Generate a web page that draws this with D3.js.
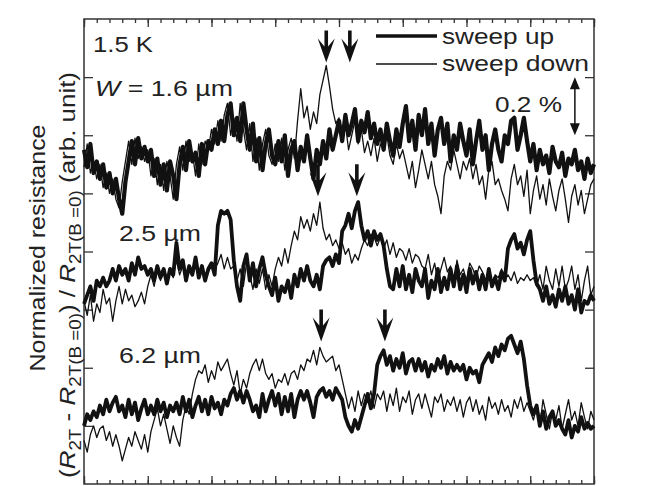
<!DOCTYPE html>
<html><head><meta charset="utf-8">
<script src="https://cdn.jsdelivr.net/npm/d3@7"></script>
<style>
body{margin:0;background:#fff}
svg{display:block}
text{font-family:"Liberation Sans",Arial,Helvetica,sans-serif;fill:#222}
</style>
</head><body>
<svg id="chart" width="649" height="486"></svg>
<script>
// sweep grid (field, arb.)
const fieldStart = -4, fieldStep = 0.05;
const fieldDomain = [-4, 4];
const valueDomain = [0, 1.6];   // normalized resistance, %
const valueTicks = [0.2, 0.4, 0.6, 0.8, 1.0, 1.2, 1.4];
const majorFieldTicks = [-4, -3, -2, -1, 0, 1, 2, 3, 4];

// W = 1.6 µm
const w16Up = [1.15,1.09,1.17,1.07,1.11,1.05,1.10,1.02,1.07,1.00,1.05,0.98,0.93,1.04,1.11,1.18,1.10,1.19,1.12,1.16,
1.11,1.15,1.06,1.12,1.03,1.10,1.01,1.11,1.06,0.98,1.10,1.16,1.08,1.18,1.11,1.14,1.06,1.17,1.10,1.18,
1.15,1.22,1.17,1.25,1.18,1.27,1.31,1.20,1.26,1.18,1.31,1.22,1.15,1.24,1.11,1.19,1.08,1.17,1.22,1.13,
1.10,1.18,1.11,1.20,1.06,1.15,1.18,1.08,1.16,1.11,1.20,1.12,1.05,1.15,1.10,1.18,1.12,1.22,1.15,1.20,
1.25,1.18,1.27,1.20,1.24,1.29,1.18,1.25,1.21,1.28,1.19,1.24,1.17,1.22,1.15,1.24,1.18,1.13,1.22,1.16,
1.24,1.30,1.18,1.25,1.15,1.27,1.20,1.29,1.17,1.24,1.13,1.22,1.26,1.17,1.24,1.11,1.20,1.15,1.24,1.18,
1.13,1.22,1.10,1.18,1.25,1.15,1.20,1.08,1.17,1.22,1.15,1.11,1.20,1.17,1.25,1.26,1.15,1.20,1.26,1.18,
1.11,1.17,1.08,1.15,1.10,1.13,1.07,1.16,1.11,1.09,1.14,1.06,1.12,1.10,1.15,1.08,1.11,1.05,1.12,1.07,1.10];
const w16Down = [1.09,1.17,1.07,1.11,1.05,1.10,1.02,1.07,1.00,1.05,0.98,0.95,1.04,1.11,1.18,1.10,1.19,1.12,1.16,1.11,
1.15,1.06,1.12,1.03,1.10,1.01,1.11,1.06,0.98,1.10,1.16,1.08,1.18,1.11,1.14,1.06,1.17,1.10,1.18,1.15,
1.22,1.17,1.25,1.18,1.27,1.31,1.20,1.26,1.18,1.31,1.22,1.15,1.24,1.11,1.19,1.08,1.17,1.22,1.13,1.10,
1.17,1.11,1.19,1.08,1.15,1.19,1.12,1.25,1.36,1.26,1.30,1.22,1.28,1.24,1.34,1.39,1.44,1.37,1.29,1.24,
1.26,1.18,1.24,1.15,1.20,1.25,1.17,1.22,1.14,1.18,1.13,1.19,1.11,1.17,1.15,1.20,1.13,1.10,1.17,1.12,
1.15,1.10,1.05,1.11,1.02,1.08,1.15,1.10,1.05,1.11,1.03,0.99,0.93,1.06,1.11,1.08,1.15,1.10,1.05,1.11,
1.08,1.12,1.05,1.10,1.03,1.06,0.98,1.08,1.11,1.03,1.05,1.01,0.98,0.94,1.05,1.10,1.03,1.06,0.99,1.08,
0.93,1.01,1.06,0.98,1.03,0.96,1.05,0.99,0.94,1.01,1.05,0.98,0.90,0.99,1.03,0.96,1.01,0.93,0.98,1.03,1.05];

// W = 2.5 µm
const w25Up = [0.62,0.65,0.68,0.63,0.70,0.68,0.71,0.68,0.70,0.74,0.70,0.75,0.72,0.74,0.70,0.76,0.72,0.78,0.74,0.75,0.72,
0.74,0.70,0.75,0.71,0.74,0.69,0.74,0.72,0.83,
0.74,0.77,0.70,0.75,0.72,0.78,0.71,0.75,0.70,0.74,0.76,0.72,
0.89,0.94,0.93,0.94,0.91,0.77,0.68,0.63,
0.75,0.79,0.70,0.76,0.68,0.74,0.78,0.72,
0.68,0.65,0.71,0.63,0.68,0.66,0.70,0.64,
0.72,0.68,0.74,0.70,0.75,0.70,0.68,0.72,0.67,
0.75,0.77,0.78,0.75,0.79,0.76,0.87,
0.89,0.93,0.88,0.94,0.97,0.89,0.84,0.87,0.82,0.87,0.84,0.86,0.82,
0.74,0.68,0.67,0.74,0.68,0.75,0.67,0.72,0.66,0.74,0.70,
0.68,0.74,0.64,0.70,0.67,0.74,0.66,0.71,0.67,
0.74,0.68,0.75,0.67,0.72,0.66,0.74,0.69,0.73,0.67,
0.72,0.67,0.74,0.68,0.71,0.67,0.73,0.70,
0.81,0.84,0.86,0.81,0.83,0.79,0.84,0.87,0.77,0.69,
0.67,0.63,0.68,0.62,0.65,0.61,0.67,0.63,0.68,0.62,
0.65,0.60,0.67,0.59,0.63,0.62,0.65,0.63];
const w25Down = [0.63,0.58,0.65,0.56,0.62,0.59,0.67,0.62,0.64,0.56,
0.63,0.68,0.62,0.67,0.63,0.65,0.61,0.63,0.66,0.62,
0.68,0.72,0.68,0.74,0.70,0.74,0.69,0.73,0.71,0.77,
0.72,0.75,0.71,0.74,0.74,0.76,0.72,0.74,0.70,0.73,0.75,0.74,
0.76,0.79,0.74,0.78,0.74,0.75,
0.70,0.74,0.68,0.76,0.72,0.67,0.74,0.69,0.74,0.67,0.72,0.68,
0.74,0.78,0.75,0.81,0.76,0.82,0.87,0.84,0.92,0.88,
0.91,0.87,0.93,0.89,0.97,0.88,0.84,0.86,
0.82,0.84,0.81,0.83,0.79,0.81,0.76,0.79,0.77,
0.81,0.84,0.82,0.86,0.85,0.82,0.85,0.81,0.84,0.79,0.83,0.78,0.81,
0.80,0.77,0.81,0.76,0.79,0.78,
0.75,0.74,0.79,0.72,0.76,0.70,0.74,0.78,0.73,0.75,0.68,0.77,0.72,0.74,0.70,0.76,0.74,0.71,0.75,
0.73,0.70,0.74,0.69,0.72,0.71,0.74,0.70,
0.72,0.70,0.73,0.69,0.71,0.70,0.72,0.70,0.71,
0.68,0.72,0.67,0.75,0.70,0.67,0.74,0.68,0.75,0.67,0.70,
0.75,0.67,0.72,0.63,0.70,0.75,0.65,0.68];

// W = 6.2 µm
const w62Up = [0.20,0.24,0.22,0.25,0.23,0.27,0.24,0.29,0.25,0.28,0.30,0.25,
0.27,0.23,0.29,0.24,0.28,0.22,0.26,0.29,0.24,
0.27,0.24,0.29,0.25,0.28,0.23,0.27,0.25,0.28,
0.24,0.30,0.25,0.29,0.23,0.27,0.30,
0.25,0.29,0.24,0.30,0.26,0.28,0.24,0.29,0.27,
0.31,0.33,0.29,0.32,0.28,0.32,
0.29,0.25,0.27,0.23,0.31,0.25,0.29,
0.32,0.27,0.31,0.24,0.30,0.25,0.31,0.23,0.29,
0.32,0.29,0.32,0.28,0.23,0.30,
0.32,0.33,0.30,0.32,0.29,0.33,0.31,0.29,
0.23,0.20,0.18,0.22,0.19,0.23,0.27,0.31,0.26,0.31,
0.41,0.44,0.46,
0.41,0.44,0.39,0.43,0.40,0.45,0.38,0.42,0.43,0.39,0.43,
0.39,0.42,0.37,0.41,0.39,0.43,0.40,0.44,0.38,0.42,0.39,0.41,
0.39,0.41,0.36,0.40,0.38,0.39,0.35,
0.41,0.43,0.45,0.42,0.47,0.44,0.48,0.46,0.50,0.51,0.48,0.45,0.49,0.43,
0.34,0.27,
0.24,0.27,0.20,0.25,0.19,0.23,0.25,0.20,0.22,
0.19,0.17,0.22,0.16,0.20,0.18,0.23,0.19,0.21,0.19,0.20];
const w62Down = [0.15,0.11,0.17,0.20,0.16,0.19,0.20,0.15,0.18,0.13,0.17,0.13,0.08,
0.12,0.16,0.13,0.18,0.15,0.12,0.17,0.11,
0.18,0.22,0.26,0.20,0.24,0.19,0.14,0.20,0.16,0.13,
0.22,0.27,0.24,0.31,0.36,0.39,
0.38,0.41,0.35,0.39,0.36,0.42,0.39,0.41,
0.43,0.38,0.34,0.39,0.31,0.36,0.33,0.38,
0.41,0.43,0.39,0.43,0.38,0.36,0.38,0.33,0.36,0.35,0.38,0.34,
0.38,0.39,0.36,0.41,0.39,0.43,0.42,0.46,0.41,0.47,0.44,0.42,
0.43,0.44,0.39,0.41,0.36,0.31,0.26,
0.30,0.25,0.32,0.27,0.31,0.28,0.32,0.26,0.31,
0.29,0.32,0.25,0.31,0.27,0.33,0.25,0.30,0.28,0.32,0.24,0.29,0.31,0.26,0.31,0.27,0.23,0.30,0.28,0.31,0.25,0.29,
0.27,0.30,0.25,0.29,0.23,0.28,0.30,0.25,0.29,0.24,0.27,0.22,0.30,0.26,0.28,0.24,0.29,0.25,0.27,0.23,0.29,0.26,0.30,0.25,0.28,
0.25,0.22,0.27,0.20,0.29,0.24,0.19,0.25,0.22,0.27,0.19,0.24,0.29,0.22,0.25,0.20,0.28,0.23,0.19,0.25,0.22];

const seriesUp = [w16Up, w25Up, w62Up];
const seriesDown = [w16Down, w25Down, w62Down];
const upWidths = [4.2, 3.8, 3.8];
const legendLabels = ["sweep up", "sweep down"];
const tempLabel = "1.5 K";
const scaleLabel = "0.2 %";
// arrows marking features: field position and tip value
const arrowFields = [-0.20, 0.17, -0.33, 0.28, -0.28, 0.72];
const arrowTips = [1.45, 1.45, 0.99, 0.99, 0.49, 0.49];
const scaleBarField = 3.70, scaleBarFrom = 1.2, scaleBarTo = 1.4;

const svg = d3.select("#chart");
const L = 84, R = 594, T = 19, B = 484;
const x = d3.scaleLinear(fieldDomain, [L, R]);
const y = d3.scaleLinear(valueDomain, [B, T]);
const ink = "#111", frame = "#333";

// frame
svg.append("rect").attr("x", L).attr("y", T).attr("width", R - L).attr("height", B - T)
  .attr("fill", "none").attr("stroke", frame).attr("stroke-width", 1.5);

// ticks
const minorTicks = d3.range(-4, 4.0001, 0.2).map(v => +v.toFixed(2));
function tickAxis(axis, tx, ty) {
  const g = svg.append("g").attr("transform", `translate(${tx},${ty})`).call(axis);
  g.select(".domain").remove();
  g.selectAll("line").attr("stroke", frame).attr("stroke-width", 1.3);
  g.selectAll("text").remove();
}
tickAxis(d3.axisTop(x).tickValues(minorTicks).tickSize(-4).tickFormat(""), 0, T);
tickAxis(d3.axisTop(x).tickValues(majorFieldTicks).tickSize(-8).tickFormat(""), 0, T);
tickAxis(d3.axisBottom(x).tickValues(minorTicks).tickSize(-4).tickFormat(""), 0, B);
tickAxis(d3.axisBottom(x).tickValues(majorFieldTicks).tickSize(-8).tickFormat(""), 0, B);
tickAxis(d3.axisLeft(y).tickValues(valueTicks).tickSize(-9).tickFormat(""), L, 0);
tickAxis(d3.axisRight(y).tickValues(valueTicks).tickSize(-9).tickFormat(""), R, 0);

// traces
const line = d3.line().x((d, i) => x(fieldStart + i * fieldStep)).y(d => y(d));
const traces = svg.append("g");
seriesUp.forEach((s, k) => traces.append("path").attr("d", line(s)).attr("fill", "none")
  .attr("stroke", ink).attr("stroke-width", upWidths[k]).attr("stroke-linejoin", "round"));
seriesDown.forEach(s => traces.append("path").attr("d", line(s)).attr("fill", "none")
  .attr("stroke", ink).attr("stroke-width", 1.3).attr("stroke-linejoin", "round"));

// arrows
arrowFields.forEach((f, i) => {
  const tx = x(f), ty = y(arrowTips[i]);
  const Ln = 32, HL = 24, hw = 8.5, sw = 1.8, notch = 8;
  const p = `M${tx - sw},${ty - Ln}L${tx + sw},${ty - Ln}L${tx + sw},${ty - HL + notch}L${tx + hw},${ty - HL}L${tx},${ty}L${tx - hw},${ty - HL}L${tx - sw},${ty - HL + notch}Z`;
  svg.append("path").attr("d", p).attr("fill", ink);
});

// scale bar
{
  const sx = x(scaleBarField), y0 = y(scaleBarFrom), y1 = y(scaleBarTo);
  svg.append("line").attr("x1", sx).attr("x2", sx).attr("y1", y1 + 8).attr("y2", y0 - 8)
    .attr("stroke", ink).attr("stroke-width", 1.5);
  svg.append("path").attr("d", `M${sx},${y1}L${sx + 5},${y1 + 12}L${sx - 5},${y1 + 12}Z`).attr("fill", ink);
  svg.append("path").attr("d", `M${sx},${y0}L${sx + 5},${y0 - 12}L${sx - 5},${y0 - 12}Z`).attr("fill", ink);
}

// texts
function label(t, px, py, len) {
  return svg.append("text").attr("x", px).attr("y", py).attr("font-size", 22)
    .attr("textLength", len).attr("lengthAdjust", "spacingAndGlyphs").text(t);
}
label(tempLabel, 93, 52, 60);
{
  const t = svg.append("text").attr("x", 95).attr("y", 96).attr("font-size", 22)
    .attr("textLength", 138).attr("lengthAdjust", "spacingAndGlyphs");
  t.append("tspan").attr("font-style", "italic").text("W");
  t.append("tspan").text(" = 1.6 µm");
}
label("2.5 µm", 119, 241, 82);
label("6.2 µm", 119, 363, 82);
label(scaleLabel, 495, 112, 67);

// legend
svg.append("line").attr("x1", 376).attr("x2", 437).attr("y1", 36).attr("y2", 36).attr("stroke", ink).attr("stroke-width", 3.5);
svg.append("line").attr("x1", 376).attr("x2", 437).attr("y1", 64).attr("y2", 64).attr("stroke", ink).attr("stroke-width", 1.3);
label(legendLabels[0], 442, 44, 112);
label(legendLabels[1], 442, 71, 147);

// y-axis title
svg.append("text").attr("transform", "translate(45,248) rotate(-90)").attr("text-anchor", "middle")
  .attr("font-size", 22).attr("textLength", 247).attr("lengthAdjust", "spacingAndGlyphs")
  .text("Normalized resistance");
{
  const t = svg.append("text").attr("transform", "translate(75,275) rotate(-90)").attr("text-anchor", "middle")
    .attr("font-size", 22).attr("textLength", 406).attr("lengthAdjust", "spacingAndGlyphs");
  const sub = s => { t.append("tspan").attr("font-size", 16).attr("dy", 6).text(s); };
  const norm = s => { t.append("tspan").attr("dy", -6).text(s); };
  t.append("tspan").text("(");
  t.append("tspan").attr("font-style", "italic").text("R");
  sub("2T");
  norm(" - ");
  t.append("tspan").attr("font-style", "italic").text("R");
  sub("2T(B =0)");
  norm(")");
  t.append("tspan").text(" / ");
  t.append("tspan").attr("font-style", "italic").text("R");
  sub("2T(B =0)");
  norm("   (arb. unit)");
}
</script>
</body></html>
